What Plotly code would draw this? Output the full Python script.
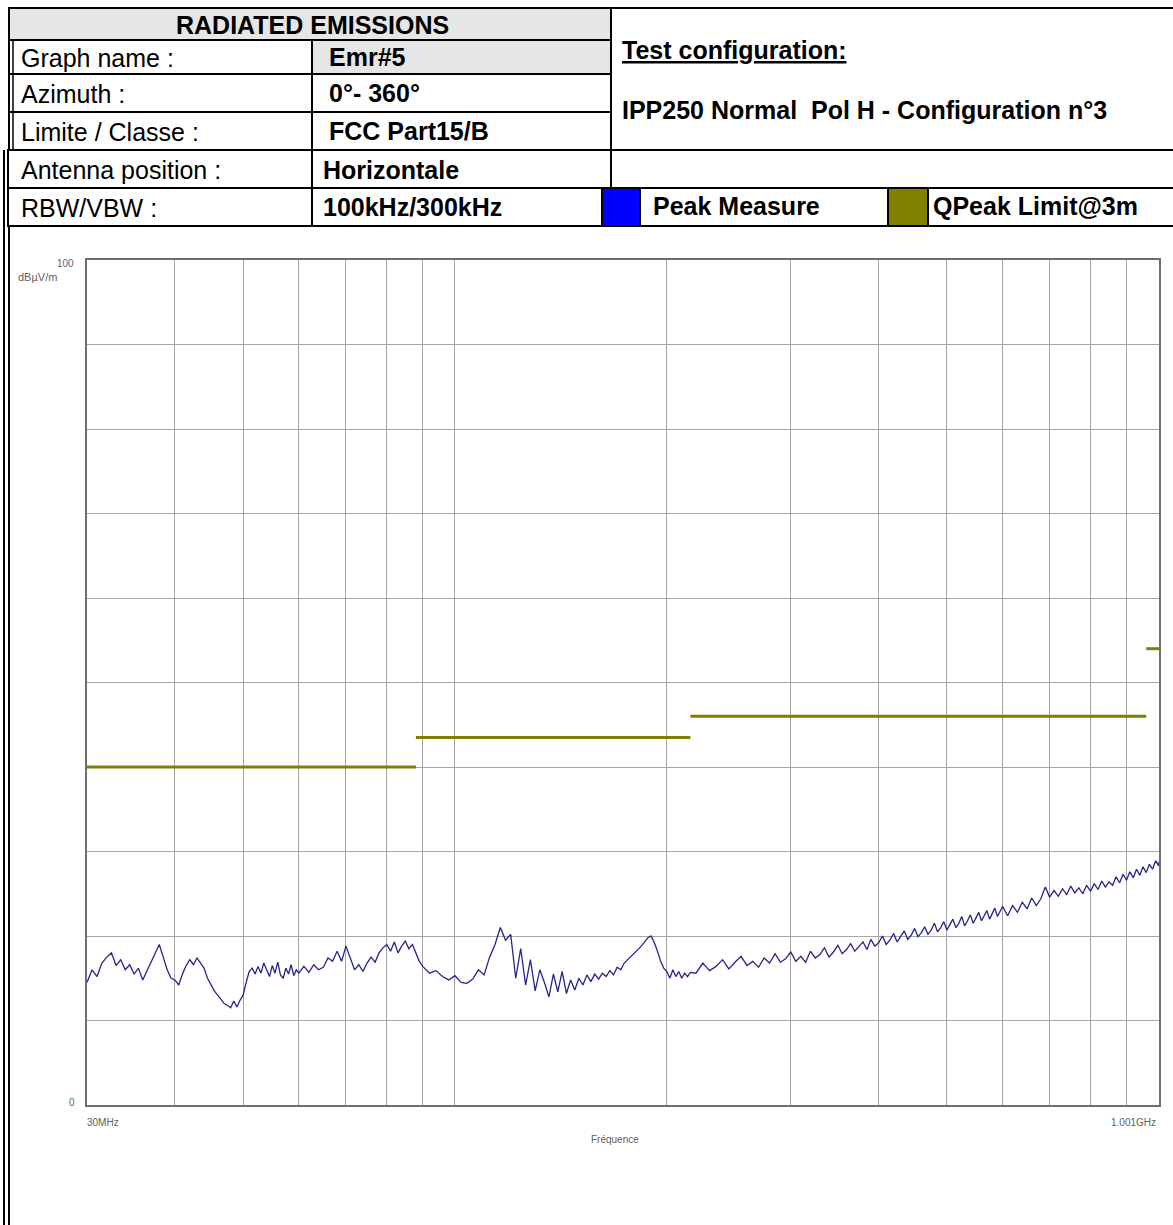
import plotly.graph_objects as go

# ---------------- data ----------------
freq_mhz = [30.0, 30.5, 31.0, 31.5, 32.0, 32.5, 33.0, 33.5, 34.0, 34.5,
            35.0, 35.5, 36.0, 36.5, 37.0, 37.5, 38.0, 38.5, 39.0, 39.5,
            40.0, 40.5, 41.0, 41.5, 42.0, 42.5, 43.0, 43.5, 44.0, 44.5,
            45.0, 45.5, 46.0, 46.5, 47.0, 47.5, 48.0, 48.5, 49.0, 49.5,
            50.0, 50.5, 51.0, 51.5, 52.0, 52.5, 53.0, 53.5, 54.0, 54.5,
            55.0, 55.5, 56.0, 56.5, 57.0, 57.5, 58.0, 58.5, 59.0, 59.5,
            60, 61, 62, 63, 64, 65, 66, 67, 68, 69,
            70, 71, 72, 73, 74, 75, 76, 77, 78, 79,
            80, 81, 82, 83, 84, 85, 86, 87, 88, 89,
            90, 92, 94, 96, 98, 100, 102, 104, 106, 108,
            110, 112, 114, 116, 118, 120, 122, 124, 126, 128,
            130, 132, 134, 136, 138, 140, 142, 144, 146, 148,
            150, 152, 154, 156, 158, 160, 162, 164, 166, 168,
            170, 172, 174, 176, 178, 180, 182, 184, 186, 188,
            190, 192, 194, 196, 198, 200, 202, 204, 206, 208,
            210, 212, 214, 216,
            220, 225, 230, 235, 240, 245, 250, 255, 260, 265,
            270, 275, 280, 285, 290, 295, 300, 305, 310, 315,
            320, 325, 330, 335, 340, 345, 350, 355, 360, 365,
            370, 375, 380, 385, 390, 395, 400, 405, 410, 415,
            420, 425, 430, 435, 440, 445, 450, 455, 460, 465,
            470, 475, 480, 485, 490, 495, 500, 505, 510, 515,
            520, 525, 530, 535, 540, 545, 550, 555, 560, 565,
            570, 575, 580, 585, 590, 595, 600,
            610, 620, 630, 640, 650, 660, 670, 680, 690, 700,
            710, 720, 730, 740, 750, 760, 770, 780, 790, 800,
            810, 820, 830, 840, 850, 860, 870, 880, 890, 900,
            910, 920, 930, 940, 950, 960, 970, 980, 990, 1000,
            1001]

peak_dbuv = [14.5, 16.0, 15.2, 16.8, 17.5, 18.0, 16.5, 17.2, 16.0, 16.6,
             15.5, 16.2, 14.8, 15.9, 17.0, 18.0, 19.0, 17.5, 16.0, 15.0,
             14.8, 14.2, 15.5, 16.5, 17.2, 16.6, 17.4, 16.8, 16.2, 15.0,
             14.2, 13.5, 13.0, 12.5, 12.0, 11.8, 11.5, 12.3, 11.6, 12.4,
             13.0, 14.5, 15.8, 16.2, 15.5, 16.4, 15.6, 16.8, 16.0, 15.2,
             16.5, 15.6, 16.9, 15.4, 15.0, 16.2, 15.5, 16.6, 15.3, 16.0,
             15.6, 16.4, 15.7, 16.6, 16.0, 16.3, 17.4, 17.0, 18.2, 17.0,
             18.8, 17.5, 16.0, 16.6, 15.8, 16.8, 17.5, 16.9, 18.0, 18.6,
             19.0, 18.2, 19.3, 18.0, 18.8, 19.4, 18.5, 19.0, 18.0, 17.0,
             16.4, 15.6, 15.9, 15.2, 14.8, 15.3, 14.5, 14.4, 14.9, 16.0,
             15.4, 17.5, 19.0, 21.0, 19.5, 20.2, 15.0, 18.5, 14.2, 17.2,
             13.5, 16.0, 14.5, 12.8, 15.5, 13.4, 15.8, 13.2, 14.8, 13.6,
             15.0, 14.2, 15.4, 14.6, 15.5, 14.9, 15.6, 15.2, 15.9, 15.4,
             16.3, 16.0, 16.8, 17.2, 17.6, 18.0, 18.4, 18.8, 19.3, 19.8,
             20.0, 19.2, 18.2, 17.0, 16.2, 15.8, 15.0, 16.0, 15.2, 15.8,
             15.0, 15.6, 15.2, 15.7,
             15.6, 16.8, 15.9, 16.4, 17.2, 16.1, 16.9, 17.6, 16.5, 17.0,
             16.3, 17.4, 16.8, 17.9, 16.9, 17.3, 18.1, 17.0, 17.6, 16.9,
             18.2, 17.4, 17.8, 18.6, 17.5, 18.1, 18.9, 17.9, 18.4, 19.1,
             18.2, 18.7, 19.3, 18.4, 19.6, 18.8, 19.2, 20.0, 19.0, 19.5,
             20.3, 19.3, 19.9, 20.6, 19.6, 20.1, 20.9, 19.9, 20.4, 21.1,
             20.2, 20.7, 21.5, 20.5, 21.0, 21.7, 20.7, 21.3, 22.0, 21.0,
             21.5, 22.3, 21.2, 21.8, 22.5, 21.5, 22.1, 22.8, 21.8, 22.4,
             23.0, 22.0, 22.7, 23.3, 22.3, 22.9, 23.5,
             22.4, 23.6, 22.8, 24.0, 23.2, 24.5, 23.6, 24.4, 25.8, 24.6,
             25.4, 24.7, 25.6, 24.9, 25.9, 25.1, 25.7, 25.0, 26.0, 25.3,
             26.2, 25.5, 26.5, 25.8, 26.4, 26.0, 27.0, 26.3, 27.3, 26.6,
             27.6, 26.9, 27.9, 27.2, 28.2, 27.5, 28.5, 27.9, 28.9, 28.3,
             28.8]

limit_start_mhz = [30, 88, 216, 960]
limit_end_mhz = [88, 216, 960, 1001]
limit_dbuv = [40, 43.5, 46, 54]

x_tick_labels = ["30MHz", "1.001GHz"]
y_tick_labels = ["100", "0"]

# ---------------- geometry helpers (pixels -> paper) ----------------
W, H = 1173, 1225
L, R, T, B = 87, 1159, 260, 1105


def px(x):
    return (x - L) / (R - L)


def py(y):
    return (B - y) / (B - T)


FONT = "Liberation Sans, Arial, sans-serif"

fig = go.Figure()

# limit segments
lim_x, lim_y = [], []
for s, e, v in zip(limit_start_mhz, limit_end_mhz, limit_dbuv):
    lim_x += [s, e, None]
    lim_y += [v, v, None]
fig.add_trace(go.Scatter(x=lim_x, y=lim_y, mode="lines", name="QPeak Limit@3m",
                         line=dict(color="#808000", width=3), connectgaps=False))

fig.add_trace(go.Scatter(x=freq_mhz, y=peak_dbuv, mode="lines", name="Peak Measure",
                         line=dict(color="#25258c", width=1.3)))

shapes = []


def rect(x0, y0, x1, y1, fill="rgba(0,0,0,0)", lw=2):
    shapes.append(dict(type="rect", xref="paper", yref="paper",
                       x0=px(x0), x1=px(x1), y0=py(y0), y1=py(y1),
                       fillcolor=fill, line=dict(color="black", width=lw), layer="above"))


def vline(x, y0, y1, lw=2, color="black"):
    shapes.append(dict(type="line", xref="paper", yref="paper",
                       x0=px(x), x1=px(x), y0=py(y0), y1=py(y1),
                       line=dict(color=color, width=lw), layer="above"))


# header table
rect(9, 8, 611, 40, fill="#e6e6e6")
rect(9, 40, 312, 74, fill="white")
rect(312, 40, 611, 74, fill="#e6e6e6")
rect(9, 74, 312, 112, fill="white")
rect(312, 74, 611, 112, fill="white")
rect(9, 112, 312, 150, fill="white")
rect(312, 112, 611, 150, fill="white")
vline(13, 40, 150, lw=1.5)
rect(611, 8, 1176, 150, fill="white")
# antenna / rbw rows
rect(8, 150, 312, 188, fill="white")
rect(312, 150, 611, 188, fill="white")
rect(8, 188, 312, 226, fill="white")
rect(312, 188, 602, 226, fill="white")
rect(602, 188, 640, 226, fill="#0000ff")
rect(640, 188, 888, 226, fill="white")
rect(888, 188, 928, 226, fill="#808000")
rect(928, 188, 1176, 226, fill="white")
# outer frame of the chart zone (double line on the left)
vline(4, 150, 1226, lw=2)
vline(9, 226, 1226, lw=2)

annotations = []


def text(x, y, s, size=25, bold=False, anchor="left", color="black"):
    if bold:
        s = "<b>" + s + "</b>"
    annotations.append(dict(x=px(x), y=py(y), xref="paper", yref="paper", text=s,
                            showarrow=False, xanchor=anchor, yanchor="middle",
                            font=dict(family=FONT, size=size, color=color)))


text(312, 25, "RADIATED EMISSIONS", bold=True, anchor="center")
text(19, 58, "Graph name :")
text(327, 57, "Emr#5", bold=True)
text(19, 94, "Azimuth :")
text(327, 93, "0°- 360°", bold=True)
text(19, 132, "Limite / Classe :")
text(327, 131, "FCC Part15/B", bold=True)
text(620, 50, "<u>Test configuration:</u>", bold=True)
text(620, 110, "IPP250 Normal\u00a0 Pol H - Configuration n°3", bold=True)
text(19, 170, "Antenna position :")
text(321, 170, "Horizontale", bold=True)
text(19, 208, "RBW/VBW :")
text(321, 207, "100kHz/300kHz", bold=True)
text(651, 206, "Peak Measure", bold=True)
text(931, 206, "QPeak Limit@3m", bold=True)

# axis labels (small grey)
AX = "#606060"
text(76, 264, y_tick_labels[0], size=10, anchor="right", color=AX)
text(16, 277, "dBµV/m", size=11, color=AX)
text(77, 1102, y_tick_labels[1], size=10, anchor="right", color=AX)
text(85, 1122, x_tick_labels[0], size=10, color=AX)
text(1158, 1122, x_tick_labels[1], size=10, anchor="right", color=AX)
text(615, 1139, "Fréquence", size=10, anchor="center", color=AX)

fig.update_layout(
    width=W, height=H, autosize=False,
    margin=dict(l=L, r=W - R, t=T, b=H - B, pad=0),
    paper_bgcolor="white", plot_bgcolor="white",
    showlegend=False,
    shapes=shapes, annotations=annotations,
    font=dict(family=FONT),
    xaxis=dict(type="log", range=[1.4771213, 3.0004341], dtick="D1",
               showgrid=True, gridcolor="#a6a6a6", gridwidth=1,
               showticklabels=False, ticks="", zeroline=False,
               showline=True, linecolor="#6e6e6e", linewidth=2, mirror=True),
    yaxis=dict(range=[0, 100], dtick=10, showgrid=True, gridcolor="#a6a6a6",
               gridwidth=1, showticklabels=False, ticks="", zeroline=False,
               showline=True, linecolor="#6e6e6e", linewidth=2, mirror=True),
)

fig.write_html("out.html", config={"displayModeBar": False},
               post_script="document.body.style.margin='0px';document.body.style.overflow='hidden';")
